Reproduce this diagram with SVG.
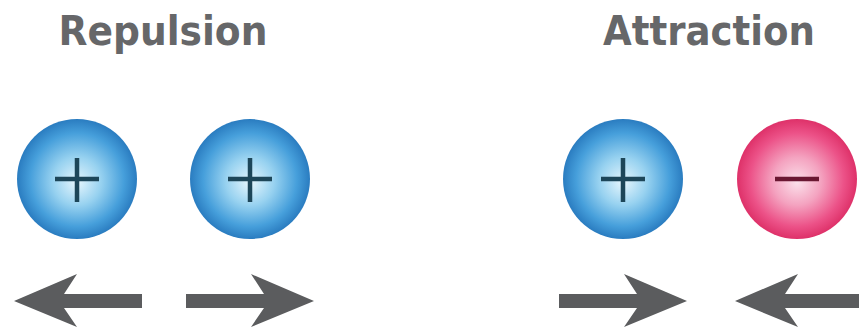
<svg xmlns="http://www.w3.org/2000/svg" width="859" height="330" viewBox="0 0 859 330">
<style>
.title{font-family:"DejaVu Sans","Liberation Sans",sans-serif;font-weight:bold;font-size:41px;fill:#666769;text-anchor:middle}
.sign{stroke-width:4.5;fill:none;stroke-linecap:butt}
.plus{stroke:#1d4659}
.minus{stroke:#6a1732}
.arrow{fill:#5b5c5e}
</style>
<defs>
<radialGradient id="gBlue" cx="0.5" cy="0.5" r="0.5" fx="0.5" fy="0.53">
<stop offset="0" stop-color="#e6f6fd"/>
<stop offset="0.4" stop-color="#98d2f0"/>
<stop offset="0.78" stop-color="#469fdb"/>
<stop offset="1" stop-color="#2a7cc0"/>
</radialGradient>
<radialGradient id="gPink" cx="0.5" cy="0.5" r="0.5" fx="0.5" fy="0.53">
<stop offset="0" stop-color="#fbe0ea"/>
<stop offset="0.4" stop-color="#f4a3c0"/>
<stop offset="0.78" stop-color="#ec5288"/>
<stop offset="1" stop-color="#de3169"/>
</radialGradient>
</defs>
<rect width="859" height="330" fill="#ffffff"/>
<g id="title-repulsion"><text class="title" x="163" y="45" textLength="209" lengthAdjust="spacingAndGlyphs">Repulsion</text></g>
<g id="title-attraction"><text class="title" x="709" y="45" textLength="212" lengthAdjust="spacingAndGlyphs">Attraction</text></g>
<g id="charge-1"><circle cx="77" cy="179" r="60" fill="url(#gBlue)"/><path class="sign plus" d="M55 179H99M77 158V202"/></g>
<g id="charge-2"><circle cx="250" cy="179" r="60" fill="url(#gBlue)"/><path class="sign plus" d="M228 179H272M250 158V202"/></g>
<g id="charge-3"><circle cx="623" cy="179" r="60" fill="url(#gBlue)"/><path class="sign plus" d="M601 179H645M623 158V202"/></g>
<g id="charge-4"><circle cx="797" cy="179" r="60" fill="url(#gPink)"/><path class="sign minus" d="M775 179H819"/></g>
<g id="connectors">
<polygon class="arrow" points="14,301 77,274 64,294 142,294 142,308 64,308 77,327"/>
<polygon class="arrow" points="314,301 251,274 264,294 186,294 186,308 264,308 251,327"/>
<polygon class="arrow" points="687,301 624,274 637,294 559,294 559,308 637,308 624,327"/>
<polygon class="arrow" points="735,301 798,274 785,294 863,294 863,308 785,308 798,327"/>
</g>
</svg>
